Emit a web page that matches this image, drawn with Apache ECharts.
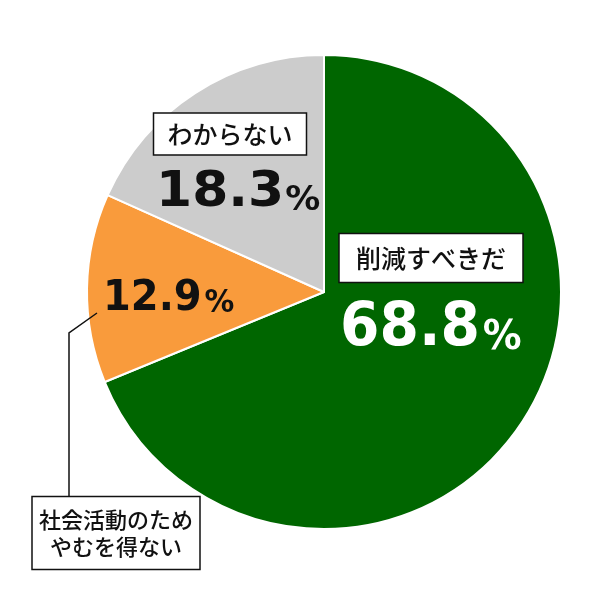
<!DOCTYPE html>
<html><head><meta charset="utf-8">
<script src="https://cdn.jsdelivr.net/npm/echarts@6/dist/echarts.min.js"></script>
<style>html,body{margin:0;padding:0;background:#fff}#c{width:597px;height:596px}</style>
</head><body><div id="c"></div>
<script>
const categories = ['削減すべきだ', '社会活動のため\nやむを得ない', 'わからない'];
const values = [68.8, 12.9, 18.3];
const colors = ['#006600', '#F99B3C', '#CCCCCC'];

const chart = echarts.init(document.getElementById('c'));
const JP = '"Noto Sans CJK JP", sans-serif';
const NUM = '"DejaVu Sans", sans-serif';

function boxLabel(name, cx, cy, w, h, fs, lh) {
  return [{
    type: 'rect', z: 10,
    shape: { x: cx - w / 2, y: cy - h / 2, width: w, height: h },
    style: { fill: '#fff', stroke: '#111', lineWidth: 1.5 }
  }, {
    type: 'text', z: 11, x: cx, y: cy,
    style: {
      text: name, align: 'center', verticalAlign: 'middle',
      font: '500 ' + fs + 'px ' + JP, fill: '#111', lineHeight: lh || fs * 1.3
    }
  }];
}
function valLabel(v, x, y, fs, pfs, sx, gap, color) {
  return {
    type: 'text', x: x, y: y, z: 10, scaleX: sx,
    style: {
      rich: {
        n: { font: 'bold ' + fs + 'px ' + NUM, fill: color, verticalAlign: 'bottom', lineHeight: fs },
        p: { font: 'bold ' + pfs + 'px ' + NUM, fill: color, verticalAlign: 'bottom', lineHeight: fs, padding: [0, 0, 0, gap] }
      },
      text: '{n|' + v.toFixed(1) + '}{p|%}',
      verticalAlign: 'top'
    }
  };
}

chart.setOption({
  animation: false,
  series: [{
    type: 'pie',
    center: [324, 292],
    radius: [0, 237],
    startAngle: 90,
    clockwise: true,
    label: { show: false },
    labelLine: { show: false },
    itemStyle: { borderColor: '#fff', borderWidth: 2 },
    emphasis: { disabled: true },
    data: categories.map((c, i) => ({ name: c, value: values[i], itemStyle: { color: colors[i] } }))
  }],
  graphic: [
    {
      type: 'polyline', z: 9,
      shape: { points: [[97, 313], [69, 333], [69, 497]] },
      style: { stroke: '#111', lineWidth: 1.5, fill: null }
    },
    ...boxLabel(categories[0], 431, 258, 184, 49, 25),
    valLabel(values[0], 340, 299, 60, 41, 0.945, 3, '#fff'),
    ...boxLabel(categories[2], 230, 134, 153, 42, 25),
    valLabel(values[2], 156, 169, 49, 33, 1.06, 1, '#111'),
    valLabel(values[1], 103, 277, 43, 32, 0.93, 3, '#111'),
    ...boxLabel(categories[1], 116, 533, 168, 73, 22, 27)
  ]
});
</script></body></html>
